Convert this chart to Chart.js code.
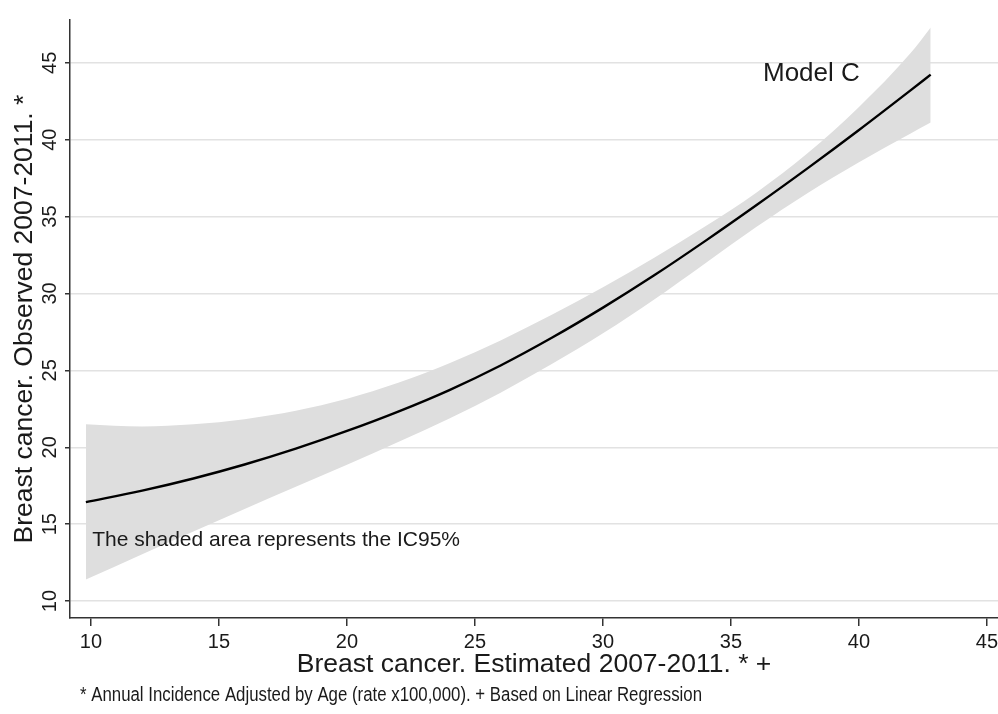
<!DOCTYPE html>
<html>
<head>
<meta charset="utf-8">
<script src="https://cdn.jsdelivr.net/npm/chart.js@4.4.1/dist/chart.umd.min.js"></script>
<style>
  html, body { margin: 0; padding: 0; background: #fff; }
  #wrap { width: 998px; height: 714px; position: relative; }
</style>
</head>
<body>
<div id="wrap"><canvas id="chart"></canvas></div>
<script>
// values
const estimated = [9.8, 12, 14, 16, 18, 20, 22, 24, 26, 28, 30, 32, 34, 36, 38, 40, 42, 42.8];
const observedFit = [16.43, 17.18, 17.97, 18.88, 19.91, 21.06, 22.32, 23.72, 25.32, 27.12, 29.08, 31.18, 33.42, 35.75, 38.15, 40.63, 43.19, 44.23];
const ciUpper = [21.5, 21.35, 21.49, 21.83, 22.37, 23.15, 24.19, 25.47, 26.95, 28.61, 30.41, 32.33, 34.37, 36.57, 39.13, 42.13, 45.6, 47.3];
const ciLower = [11.4, 13.05, 14.53, 15.99, 17.43, 18.87, 20.35, 21.87, 23.55, 25.41, 27.41, 29.61, 31.97, 34.33, 36.53, 38.53, 40.39, 41.11];

const xTitle = 'Breast cancer. Estimated 2007-2011. * +';
const yTitle = 'Breast cancer. Observed 2007-2011. *';
const footnote = '* Annual Incidence Adjusted by Age (rate x100,000). + Based on Linear Regression';
const notes = [
    { text: 'Model C', x: 36.25, y: 44.3, size: 26, width: 97 },
    { text: 'The shaded area represents the IC95%', x: 10.05, y: 13.97, size: 21, width: 369 }
];

const FONT = 'Arial, "Liberation Sans", sans-serif';
const toPts = (ys) => estimated.map((x, i) => ({ x: x, y: ys[i] }));

// draw text squeezed to the width it has in the original
function fitText(ctx, text, x, y, width) {
    const w = ctx.measureText(text).width;
    ctx.save();
    ctx.translate(x, y);
    ctx.scale(Math.min(1, width / w), 1);
    ctx.fillText(text, 0, 0);
    ctx.restore();
}

const textPlugin = {
    id: 'stataText',
    afterDraw(chart) {
        const ctx = chart.ctx;
        const xs = chart.scales.x, ys = chart.scales.y;
        ctx.save();
        ctx.fillStyle = '#1a1a1a';

        // y tick labels, rotated like the original
        ctx.font = '20px ' + FONT;
        ctx.textAlign = 'center';
        ctx.textBaseline = 'middle';
        ys.ticks.forEach(t => {
            const py = ys.getPixelForValue(t.value);
            ctx.save();
            ctx.translate(50, py);
            ctx.rotate(-Math.PI / 2);
            ctx.fillText(String(t.value), 0, 0);
            ctx.restore();
        });

        // y title
        ctx.font = '26.5px ' + FONT;
        ctx.save();
        ctx.translate(25, (chart.chartArea.top + chart.chartArea.bottom) / 2);
        ctx.rotate(-Math.PI / 2);
        ctx.fillText(yTitle, 0, 0);
        ctx.restore();

        // footnote (condensed face in the original)
        ctx.font = '20px ' + FONT;
        ctx.textAlign = 'left';
        fitText(ctx, footnote, 80, 695, 622);

        // notes inside the plot
        notes.forEach(n => {
            ctx.font = n.size + 'px ' + FONT;
            fitText(ctx, n.text, xs.getPixelForValue(n.x), ys.getPixelForValue(n.y), n.width);
        });
        ctx.restore();
    }
};

new Chart(document.getElementById('chart'), {
    type: 'line',
    data: {
        datasets: [
            { label: 'Fit', data: toPts(observedFit), borderColor: '#000', borderWidth: 2.4, fill: false,
              pointRadius: 0, cubicInterpolationMode: 'monotone' },
            { label: 'Upper', data: toPts(ciUpper), borderWidth: 0, borderColor: 'rgba(0,0,0,0)',
              backgroundColor: '#dedede', fill: '+1', pointRadius: 0, cubicInterpolationMode: 'monotone' },
            { label: 'Lower', data: toPts(ciLower), borderWidth: 0, borderColor: 'rgba(0,0,0,0)',
              fill: false, pointRadius: 0, cubicInterpolationMode: 'monotone' }
        ]
    },
    options: {
        responsive: true,
        maintainAspectRatio: false,
        animation: false,
        layout: { padding: { top: 20, right: 0, left: 0, bottom: 0 } },
        plugins: { legend: { display: false }, tooltip: { enabled: false } },
        scales: {
            x: {
                type: 'linear',
                min: 9.18,
                max: 45.43,
                afterFit: (s) => { s.height = 96; s.paddingLeft = 0; s.paddingRight = 0; },
                ticks: { stepSize: 5, includeBounds: false, color: '#1a1a1a', padding: 4,
                         font: { size: 20, family: FONT }, maxRotation: 0 },
                grid: { drawOnChartArea: false, color: '#333', tickLength: 8, lineWidth: 1.5 },
                border: { color: '#333', width: 1.5 },
                title: { display: true, text: xTitle, color: '#1a1a1a',
                         font: { size: 26.5, family: FONT }, padding: { top: 0, bottom: 33 } }
            },
            y: {
                type: 'linear',
                min: 8.9,
                max: 47.78,
                afterFit: (s) => { s.width = 70; },
                ticks: { stepSize: 5, includeBounds: false, display: false },
                grid: { color: '#e2e2e2', lineWidth: 1.5, tickLength: 5, tickColor: '#333' },
                border: { color: '#333', width: 1.5 }
            }
        }
    },
    plugins: [textPlugin]
});
</script>
</body>
</html>
